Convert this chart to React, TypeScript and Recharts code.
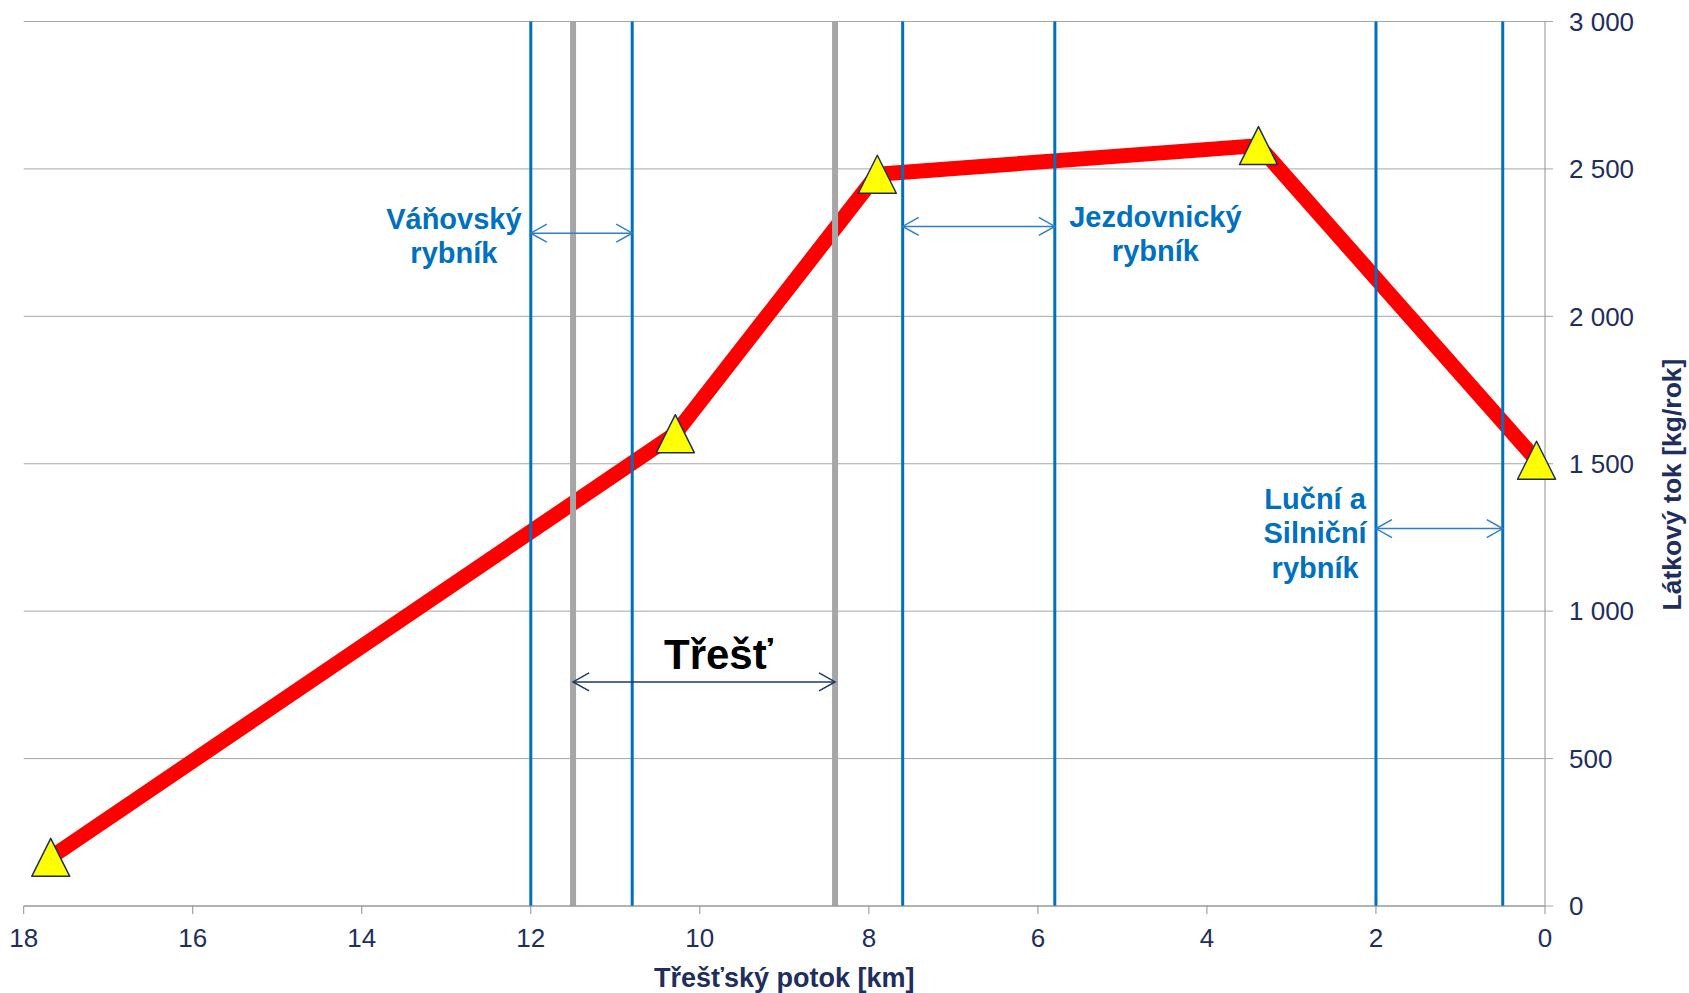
import {
  LineChart,
  Line,
  XAxis,
  YAxis,
  CartesianGrid,
  ReferenceLine,
  ReferenceDot,
} from "recharts";

// body of the stream, km from mouth
const kmPoints = [17.68, 10.29, 7.9, 3.39, 0.1];
const fluxValues = [165, 1602, 2482, 2579, 1512];

const xTicks = [0, 2, 4, 6, 8, 10, 12, 14, 16, 18];
const yTicks = [0, 500, 1000, 1500, 2000, 2500, 3000];

// pond boundaries (blue) and town boundaries (gray)
const pondLines = [12.0, 10.8, 7.6, 5.8, 2.0, 0.5];
const townLines = [11.5, 8.4];

const pondArrows = [
  { from: 12.0, to: 10.8, y: 2282 },
  { from: 7.6, to: 5.8, y: 2305 },
  { from: 2.0, to: 0.5, y: 1280 },
];
const townArrow = { from: 11.5, to: 8.4, y: 760 };

const pondLabels = [
  { lines: ["Váňovský", "rybník"], x: 12.91, y: 2238 },
  { lines: ["Jezdovnický", "rybník"], x: 4.61, y: 2246 },
  { lines: ["Luční a", "Silniční", "rybník"], x: 2.72, y: 1231 },
];
const townLabel = { text: "Třešť", x: 9.78, y: 803 };

const data = kmPoints.map((km, i) => ({ km, flux: fluxValues[i] }));

const FONT = "'Liberation Sans', Arial, sans-serif";
const NAVY = "#1F2E5C";
const BLUE = "#0070C0";

const formatThousands = (v: number) =>
  v >= 1000 ? `${Math.floor(v / 1000)} ${String(v % 1000).padStart(3, "0")}` : String(v);

function Triangle({ cx, cy }: { cx?: number; cy?: number }) {
  if (cx == null || cy == null) return null;
  const h = 19;
  return (
    <path
      d={`M${cx},${cy - h} L${cx - h},${cy + h} L${cx + h},${cy + h} Z`}
      fill="#FFFF00"
      stroke="#1F2E5C"
      strokeWidth={1.5}
      strokeLinejoin="round"
    />
  );
}

const makeArrow = (color: string) => (p: any) => {
  const { x1, y1, x2, y2 } = p;
  const dir = Math.sign(x2 - x1) || 1;
  const len = 16;
  const half = 9;
  return (
    <g>
      <line x1={x1} y1={y1} x2={x2} y2={y2} stroke={color} strokeWidth={1.5} />
      <path
        d={`M${x1 + dir * len},${y1 - half} L${x1},${y1} L${x1 + dir * len},${y1 + half} M${x2 - dir * len},${y2 - half} L${x2},${y2} L${x2 - dir * len},${y2 + half}`}
        fill="none"
        stroke={color}
        strokeWidth={1.5}
      />
    </g>
  );
};

export default function App() {
  return (
    <div style={{ position: "absolute", left: 0, top: 0, background: "#fff" }}>
      <LineChart
        width={1689}
        height={993}
        data={data}
        margin={{ top: 21.5, right: 0, bottom: 0, left: 23.7 }}
      >
        <CartesianGrid vertical={false} stroke="#A6A6A6" />
        <XAxis
          dataKey="km"
          type="number"
          domain={[0, 18]}
          ticks={xTicks}
          reversed
          height={87}
          tickSize={8}
          tickMargin={15}
          axisLine={{ stroke: "#8C909A" }}
          tickLine={{ stroke: "#8C909A" }}
          tick={{ fill: NAVY, fontSize: 26, fontFamily: FONT }}
          label={{
            content: ({ viewBox }: any) => (
              <text
                x={viewBox.x + viewBox.width / 2}
                y={viewBox.y + 81}
                textAnchor="middle"
                fill={NAVY}
                fontSize={27}
                fontWeight="bold"
                fontFamily={FONT}
              >
                Třešťský potok [km]
              </text>
            ),
          }}
        />
        <YAxis
          orientation="right"
          type="number"
          domain={[0, 3000]}
          ticks={yTicks}
          width={144}
          tickSize={8}
          tickMargin={16}
          axisLine={{ stroke: "#8C909A" }}
          tickLine={{ stroke: "#A6A6A6" }}
          tickFormatter={formatThousands}
          tick={{ fill: NAVY, fontSize: 26, fontFamily: FONT, textAnchor: "start" }}
          label={{
            content: ({ viewBox }: any) => {
              const cx = viewBox.x + 127;
              const cy = viewBox.y + 463;
              return (
                <text
                  x={cx}
                  y={cy}
                  transform={`rotate(-90 ${cx} ${cy})`}
                  textAnchor="middle"
                  dominantBaseline="central"
                  fill={NAVY}
                  fontSize={26.5}
                  fontWeight="bold"
                  fontFamily={FONT}
                >
                  Látkový tok [kg/rok]
                </text>
              );
            },
          }}
        />
        <Line
          dataKey="flux"
          type="linear"
          stroke="#FF0000"
          strokeWidth={15}
          strokeLinejoin="round"
          dot={(p: any) => <Triangle key={`t-${p.index}`} cx={p.cx} cy={p.cy} />}
          activeDot={false}
          isAnimationActive={false}
        />
        {townLines.map((x) => (
          <ReferenceLine key={`town-${x}`} x={x} stroke="#A6A6A6" strokeWidth={6} />
        ))}
        {pondLines.map((x) => (
          <ReferenceLine key={`pond-${x}`} x={x} stroke={BLUE} strokeWidth={3} />
        ))}
        {pondArrows.map((a) => (
          <ReferenceLine
            key={`arr-${a.from}`}
            segment={[
              { x: a.from, y: a.y },
              { x: a.to, y: a.y },
            ]}
            shape={makeArrow("#2E7FC8")}
          />
        ))}
        <ReferenceLine
          segment={[
            { x: townArrow.from, y: townArrow.y },
            { x: townArrow.to, y: townArrow.y },
          ]}
          shape={makeArrow("#1F3864")}
        />
        {pondLabels.map((l) => (
          <ReferenceDot
            key={`lbl-${l.x}`}
            x={l.x}
            y={l.y}
            r={1}
            shape={(p: any) => {
              const n = l.lines.length;
              return (
                <text
                  x={p.cx}
                  y={p.cy}
                  textAnchor="middle"
                  fill={BLUE}
                  fontSize={29}
                  fontWeight="bold"
                  fontFamily={FONT}
                >
                  {l.lines.map((t, i) => (
                    <tspan key={t} x={p.cx} y={p.cy + (i - (n - 1) / 2) * 34.5}>
                      {t}
                    </tspan>
                  ))}
                </text>
              );
            }}
          />
        ))}
        <ReferenceDot
          x={townLabel.x}
          y={townLabel.y}
          r={1}
          shape={(p: any) => (
            <text
              x={p.cx}
              y={p.cy}
              textAnchor="middle"
              fill="#000"
              fontSize={42}
              fontWeight="bold"
              fontFamily={FONT}
            >
              {townLabel.text}
            </text>
          )}
        />
      </LineChart>
    </div>
  );
}
